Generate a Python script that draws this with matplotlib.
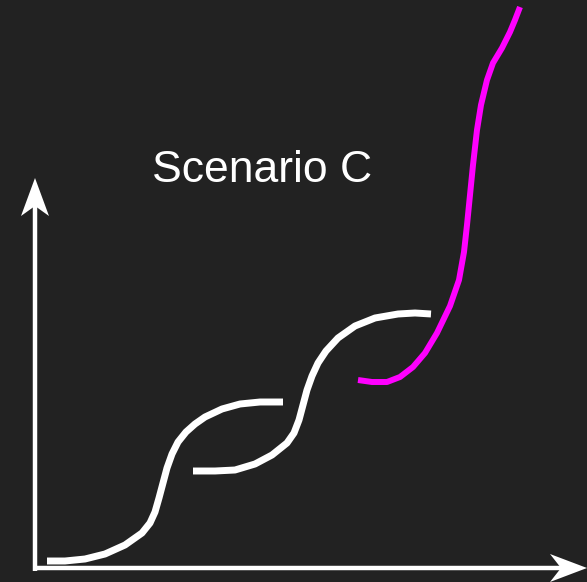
import matplotlib
matplotlib.use("Agg")
import matplotlib.pyplot as plt
from matplotlib.patches import Polygon

# Data (pixel-space coordinates of the sketch, y grows downward)
curve1_x = [47, 65, 85, 105, 125, 142, 150, 155, 159, 163, 167, 172, 178, 186, 195, 205, 222, 240, 260, 283]
curve1_y = [561, 561, 559, 554, 545, 533, 523, 512, 498, 483, 468, 454, 442, 432, 424, 417, 409, 404, 402, 402]

curve2_x = [193, 215, 235, 255, 272, 287, 294, 299, 303, 307, 312, 318, 326, 338, 355, 375, 398, 415, 431]
curve2_y = [471, 471, 470, 464, 455, 443, 433, 420, 405, 390, 376, 363, 351, 338, 326, 318, 314, 313, 314]

curve3_x = [358, 372, 387, 400, 413, 425, 437, 450, 459, 464, 467, 470, 473, 477, 481, 487, 493, 502, 510, 515, 520]
curve3_y = [380, 382, 382, 377, 367, 353, 333, 306, 280, 252, 225, 195, 165, 130, 105, 80, 63, 48, 32, 20, 7]

title = "Scenario C"

BG = "#222222"
W, H = 587, 582

fig = plt.figure(figsize=(W / 100, H / 100), dpi=100, facecolor=BG)
ax = fig.add_axes([0, 0, 1, 1])
ax.set_facecolor(BG)
ax.set_xlim(0, W)
ax.set_ylim(H, 0)
ax.axis("off")

# axes arrows
ox, oy = 35, 568
ytip, xtip = 178, 587
ax.plot([ox, ox], [oy + 3, ytip + 25], color="white", lw=3.2, solid_capstyle="butt")
ax.plot([ox - 1.5, xtip - 20], [oy, oy], color="white", lw=3.2, solid_capstyle="butt")
ax.add_patch(Polygon([[ox, ytip], [ox + 14, ytip + 38], [ox, ytip + 28], [ox - 14, ytip + 38]],
                     closed=True, facecolor="white", edgecolor="none"))
ax.add_patch(Polygon([[xtip, oy], [xtip - 37, oy + 14], [xtip - 26, oy], [xtip - 37, oy - 14]],
                     closed=True, facecolor="white", edgecolor="none"))

ax.plot(curve1_x, curve1_y, color="white", lw=5.0, solid_capstyle="butt", solid_joinstyle="round")
ax.plot(curve2_x, curve2_y, color="white", lw=5.0, solid_capstyle="butt", solid_joinstyle="round")
ax.plot(curve3_x, curve3_y, color="#ff00ff", lw=4.3, solid_capstyle="butt", solid_joinstyle="round")

ax.text(262, 171, title, color="white", fontsize=32, family=["Liberation Sans", "DejaVu Sans"],
        ha="center", va="center")

fig.savefig("out.png", dpi=100, facecolor=BG)
